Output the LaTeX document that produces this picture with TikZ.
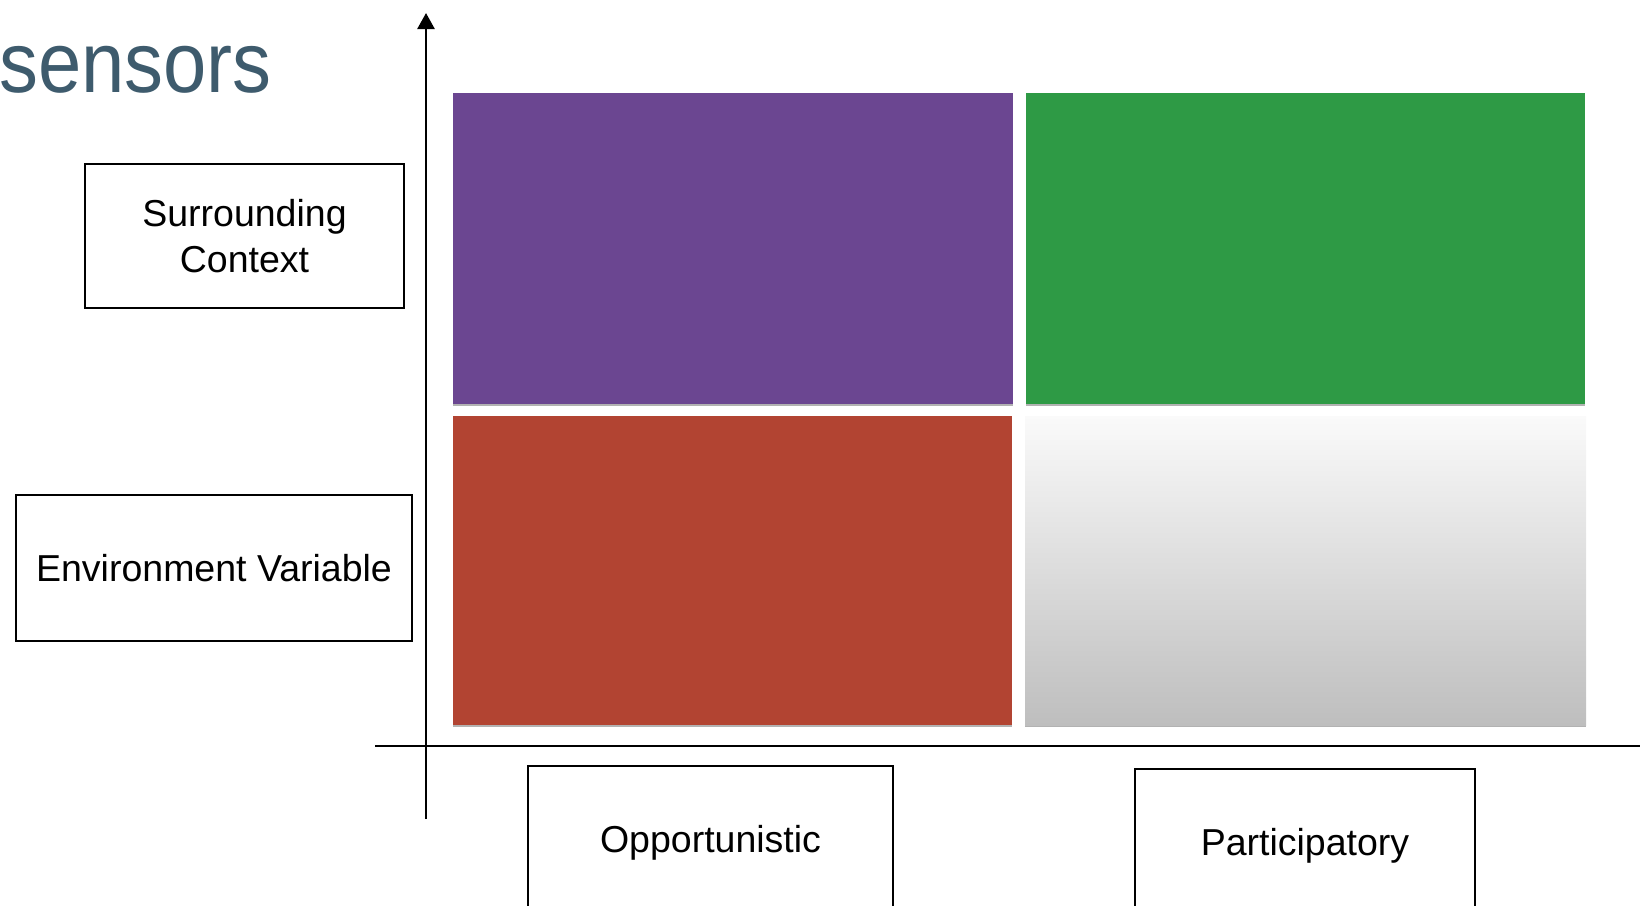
\documentclass[tikz,border=0pt]{standalone}
\usepackage{fontspec}
\setmainfont{Liberation Sans}
\usetikzlibrary{arrows.meta,shadows}

\definecolor{titleblue}{HTML}{3E5B6D}
\definecolor{tilepurple}{HTML}{6B4691}
\definecolor{tilegreen}{HTML}{2E9A45}
\definecolor{tilered}{HTML}{B24432}
\definecolor{tiletop}{HTML}{FAFAFA}
\definecolor{tilebottom}{HTML}{BEBEBE}

\begin{document}
\begin{tikzpicture}[x=1pt,y=-1pt,
  labelbox/.style={draw=black, line width=2pt, align=center, inner sep=0pt,
    font=\fontsize{37.5}{46}\selectfont},
  tile/.style={inner sep=0pt, anchor=north west,
    drop shadow={shadow xshift=0pt, shadow yshift=-2pt, fill=black, opacity=0.3}},
  axis/.style={line width=2.5pt, draw=black}]

\useasboundingbox (0,0) rectangle (1640,905);
\clip (0,0) rectangle (1640,905);

% heading
\node[anchor=base west, inner sep=0pt, text=titleblue,
      font=\fontsize{86}{100}\selectfont] (title) at (-1,92) {\scalebox{0.905}[1]{sensors}};

% the four quadrant tiles
\node[tile, fill=tilepurple, minimum width=560pt, minimum height=311pt] (tl) at (453,93) {};
\node[tile, fill=tilegreen,  minimum width=559pt, minimum height=311pt] (tr) at (1026,93) {};
\node[tile, fill=tilered,    minimum width=559pt, minimum height=309pt] (bl) at (453,416) {};
\node[tile, top color=tiletop, bottom color=tilebottom,
      minimum width=561pt, minimum height=309pt] (br) at (1025,416) {};

% axes
\coordinate (ybot) at (426,819);
\coordinate (ytop) at (426,13);
\coordinate (xleft) at (375,746);
\coordinate (xright) at (1645,746);
\draw[axis, -{Triangle[length=16pt,width=17pt]}] (ybot) -- (ytop);
\draw[axis] (xleft) -- (xright);

% axis labels (the two lower boxes run past the bottom edge)
\node[labelbox, minimum width=319pt, minimum height=144pt] (ctx) at (244.5,236) {Surrounding\\Context};
\node[labelbox, minimum width=396pt, minimum height=146pt] (env) at (214,568) {Environment Variable};
\node[labelbox, minimum width=365pt, minimum height=154pt] (opp) at (710.5,843) {Opportunistic};
\node[labelbox, minimum width=340pt, minimum height=154pt] (par) at (1305,846) {Participatory};

\end{tikzpicture}
\end{document}
